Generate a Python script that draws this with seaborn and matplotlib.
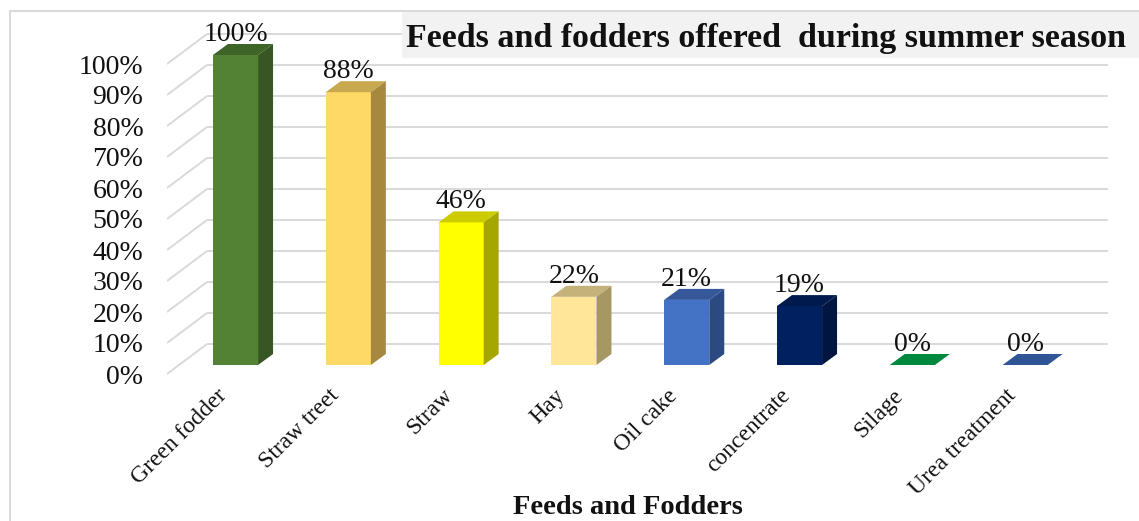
import matplotlib
matplotlib.use("Agg")
import matplotlib.pyplot as plt
from matplotlib.patches import Polygon, Rectangle
import seaborn as sns
import pandas as pd

# ---- data -------------------------------------------------------------
categories = ["Green fodder", "Straw treet", "Straw", "Hay", "Oil cake",
              "concentrate", "Silage", "Urea treatment"]
values = [100, 88, 46, 22, 21, 19, 0, 0]
y_ticks = [0, 10, 20, 30, 40, 50, 60, 70, 80, 90, 100]
title_text = "Feeds and fodders offered  during summer season"
x_title = "Feeds and Fodders"

# face colours for the pseudo-3D columns
front_colors = ["#548235", "#FFD966", "#FFFF00", "#FFE699", "#4472C4",
                "#002060", "#00883E", "#2F5597"]
top_colors = ["#3E6428", "#C8A94F", "#CCCC00", "#C5B27A", "#34589A",
              "#001A4D", "#00883E", "#2F5597"]
side_colors = ["#375623", "#A6893F", "#A6A600", "#A69763", "#2C4A82",
               "#00153F", "#006B31", "#23427A"]

# ---- figure geometry (pixels) ------------------------------------------
W, H = 1139, 521
DPI = 100
CAT_PX = 112.8          # distance between category centres
UNIT_PX = 3.1           # pixels per percentage point
X0_PX = 235.5           # centre of first column face
Y0_PX = 365             # baseline of the column faces (from top)

sns.set_style("white")
plt.rcParams["font.family"] = ["Liberation Serif", "DejaVu Serif"]

fig = plt.figure(figsize=(W / DPI, H / DPI), dpi=DPI)
fig.patch.set_facecolor("white")

ax_left, ax_right, ax_top, ax_bottom = 167, W, 0, 380
ax = fig.add_axes([ax_left / W, 1 - ax_bottom / H,
                   (ax_right - ax_left) / W, (ax_bottom - ax_top) / H])


def dx(px):
    return px / CAT_PX


def dy(px):
    return px / UNIT_PX


df = pd.DataFrame({"feed": categories, "share": values})
sns.barplot(data=df, x="feed", y="share", hue="feed", order=categories,
            hue_order=categories, palette=front_colors, saturation=1,
            width=0.4, legend=False, linewidth=0, ax=ax, zorder=3)

ax.set_xlim((ax_left - X0_PX) / CAT_PX, (ax_right - X0_PX) / CAT_PX)
ax.set_ylim(-(ax_bottom - Y0_PX) / UNIT_PX, (Y0_PX - ax_top) / UNIT_PX)

# depth offsets relative to the column face plane
floor_off = (dx(-12), dy(-9))
back_off = (dx(28), dy(21))
col_off = (dx(15), dy(11))

grid_c = "#D9D9D9"
x_back_l = (207 - X0_PX) / CAT_PX
x_back_r = (1108 - X0_PX) / CAT_PX
x_front_l = (167 - X0_PX) / CAT_PX
for v in y_ticks:
    ax.plot([x_back_l, x_back_r], [v + back_off[1]] * 2, color=grid_c,
            lw=1.4, zorder=1, solid_capstyle="butt")
    ax.plot([x_front_l, x_back_l], [v + floor_off[1], v + back_off[1]],
            color=grid_c, lw=1.4, zorder=1, solid_capstyle="butt")

# top and side faces of each column, plus value labels
for i, p in enumerate(ax.patches):
    x0 = p.get_x()
    x1 = x0 + p.get_width()
    h = p.get_height()
    ox, oy = col_off
    top = Polygon([(x0, h), (x1, h), (x1 + ox, h + oy), (x0 + ox, h + oy)],
                  closed=True, facecolor=top_colors[i], edgecolor="none",
                  zorder=4)
    ax.add_patch(top)
    if h > 0:
        side = Polygon([(x1, 0), (x1 + ox, oy), (x1 + ox, h + oy), (x1, h)],
                       closed=True, facecolor=side_colors[i],
                       edgecolor="none", zorder=4)
        ax.add_patch(side)
    ax.text(x0 + p.get_width() / 2, h + oy + dy(3), f"{values[i]}%",
            ha="center", va="baseline", fontsize=20, color="#111111",
            zorder=6)

# axis ticks: percentage labels on the front edge, categories on the floor
ax.set_yticks([v + floor_off[1] for v in y_ticks])
ax.set_yticklabels([f"{v}%" for v in y_ticks], fontsize=20, color="#111111")
ax.tick_params(axis="y", length=0, pad=17)

ax.set_xticks([i + dx(-12) for i in range(len(categories))])
ax.set_xticklabels(categories, fontsize=17, color="#111111")
ax.tick_params(axis="x", length=0, pad=9)
for lab in ax.get_xticklabels():
    lab.set_rotation(45)
    lab.set_ha("right")
    lab.set_va("center")
    lab.set_rotation_mode("anchor")

ax.set_xlabel("")
ax.set_ylabel("")
for s in ax.spines.values():
    s.set_visible(False)
ax.set_facecolor("none")

# chart frame and title box
fig.patches.append(Rectangle((10 / W, -0.1), 1.2, 1 - 11 / H + 0.1,
                             transform=fig.transFigure, fill=False,
                             edgecolor=grid_c, lw=1.4, zorder=0))
fig.patches.append(Rectangle((402 / W, 1 - 58 / H), 1.0, 46 / H,
                             transform=fig.transFigure, facecolor="#F2F2F2",
                             edgecolor="none", zorder=5))
fig.text(406 / W, 1 - 47 / H, title_text, fontsize=24.5, fontweight="bold",
         ha="left", va="baseline", color="#111111", zorder=6)
fig.text(628 / W, 1 - 508 / H, x_title, fontsize=20.5, fontweight="bold",
         ha="center", va="center", color="#111111")

fig.savefig("out.png", dpi=DPI)
